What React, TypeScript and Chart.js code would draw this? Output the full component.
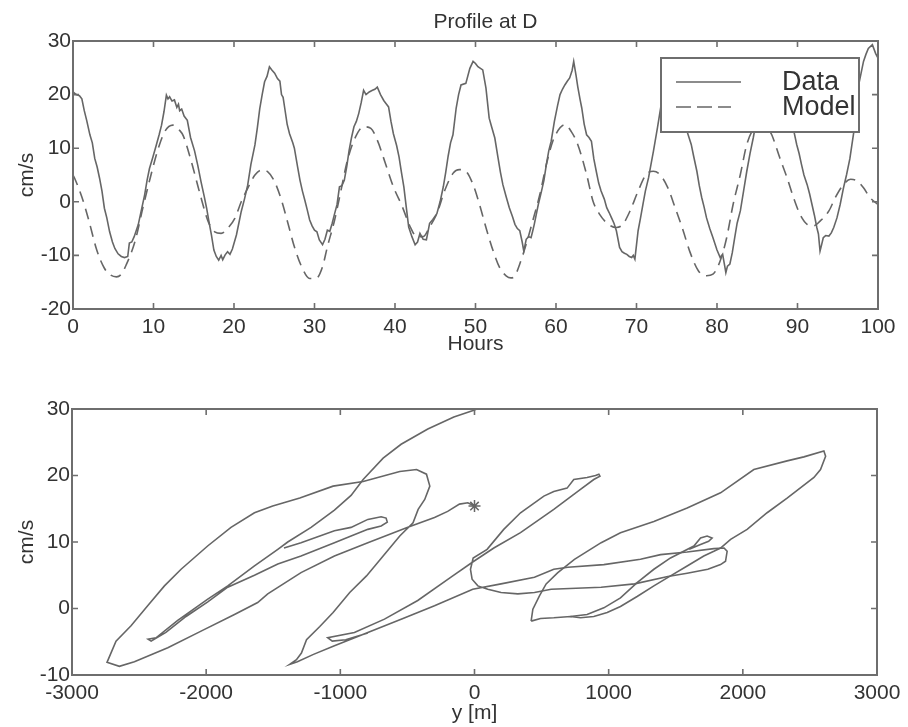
import { useEffect, useRef } from "react";
import { Chart, registerables } from "chart.js";

Chart.register(...registerables);

const FONT = "'Liberation Sans', Arial, Helvetica, sans-serif";
const INK = "#333333";
const LINE = "#666666";
const FRAME = "#6e6e6e";

// Upper panel: measured and modelled current at D, [hour, cm/s]
const measured: [number, number][] = [
  [0, 20.5], [0.4, 20.0], [0.8, 19.8], [1.1, 19.2], [1.4, 17.0], [1.7, 15.2], [2.1, 12.5], [2.4, 11.0],
  [2.7, 8.1], [3.0, 6.5], [3.3, 4.4], [3.6, 2.0], [3.9, -1.2], [4.2, -3.0], [4.55, -5.6], [4.9, -7.5],
  [5.2, -8.7], [5.6, -9.7], [6.0, -10.2], [6.4, -10.4], [6.8, -10.2], [7.0, -7.7], [7.3, -7.5], [7.6, -6.5],
  [8.1, -4.3], [8.5, -1.5], [8.9, 1.3], [9.2, 4.0], [9.5, 6.2], [9.9, 8.2], [10.35, 10.6], [10.7, 12.5],
  [11.0, 14.3], [11.3, 16.8], [11.6, 19.9], [11.8, 19.2], [12.0, 19.6], [12.3, 18.8], [12.6, 19.0], [12.9, 17.6],
  [13.1, 18.2], [13.25, 17.0], [13.5, 17.3], [13.8, 16.0], [14.2, 15.2], [14.6, 12.0], [15.1, 9.5], [15.5, 6.8],
  [15.9, 3.75], [16.3, 1.0], [16.6, -1.2], [16.9, -3.8], [17.2, -6.2], [17.5, -9.0], [17.8, -10.2], [18.1, -10.9],
  [18.4, -10.0], [18.6, -10.8], [18.9, -9.9], [19.2, -9.3], [19.5, -9.8], [19.8, -8.8], [20.3, -6.2], [20.6, -4.0],
  [20.9, -1.8], [21.3, 0.5], [21.7, 3.1], [22.1, 7.0], [22.6, 10.6], [22.9, 13.8], [23.2, 17.4], [23.5, 20.0],
  [23.8, 22.4], [24.1, 23.4], [24.4, 25.2], [24.7, 24.6], [25.05, 24.0], [25.4, 23.0], [25.7, 22.5], [25.9, 20.0],
  [26.1, 19.5], [26.3, 17.5], [26.6, 14.5], [26.9, 12.7], [27.3, 11.0], [27.5, 10.0], [27.9, 6.5], [28.2, 4.0],
  [28.5, 2.0], [28.8, 0.3], [29.1, -1.5], [29.4, -3.4], [29.7, -4.5], [30.0, -5.3], [30.3, -5.6], [30.6, -7.1],
  [31.0, -8.0], [31.3, -7.0], [31.6, -5.3], [31.9, -5.5], [32.2, -4.0], [32.5, -2.2], [32.8, -0.5], [33.1, 2.8],
  [33.4, 3.0], [33.7, 4.0], [34.0, 6.5], [34.3, 9.6], [34.6, 12.0], [34.9, 14.0], [35.2, 15.0], [35.5, 16.5],
  [35.8, 18.5], [36.1, 20.8], [36.4, 20.0], [36.8, 20.5], [37.2, 20.8], [37.5, 21.0], [37.8, 21.4], [38.2, 20.0],
  [38.6, 18.9], [38.9, 18.3], [39.2, 17.7], [39.5, 15.0], [39.8, 12.7], [40.2, 10.5], [40.5, 8.4], [40.8, 5.5],
  [41.1, 2.8], [41.4, -1.0], [41.7, -4.7], [42.1, -6.5], [42.5, -8.0], [42.8, -7.5], [43.1, -5.9], [43.5, -7.0],
  [43.9, -7.1], [44.3, -4.0], [44.7, -3.3], [45.2, -2.2], [45.6, 0.0], [46.0, 2.8], [46.3, 5.5], [46.6, 8.5],
  [46.9, 11.0], [47.2, 12.5], [47.6, 17.5], [47.9, 20.0], [48.2, 21.8], [48.8, 22.1], [49.3, 24.9], [49.7, 26.2],
  [50.0, 25.8], [50.3, 25.2], [50.9, 24.6], [51.3, 21.2], [51.7, 15.6], [52.0, 14.0], [52.4, 11.9], [52.8, 8.2],
  [53.1, 5.5], [53.4, 3.2], [53.8, 1.0], [54.2, -1.1], [54.6, -2.8], [54.9, -4.2], [55.2, -5.0], [55.5, -5.4],
  [55.8, -7.5], [56.0, -9.2], [56.3, -7.0], [56.6, -6.5], [56.9, -6.7], [57.1, -5.5], [57.3, -4.2], [57.8, -0.5],
  [58.2, 2.0], [58.5, 4.0], [58.8, 6.95], [59.1, 9.5], [59.4, 11.3], [59.8, 15.0], [60.2, 18.0], [60.5, 20.0],
  [60.8, 21.0], [61.1, 21.8], [61.4, 22.5], [61.7, 23.1], [62.0, 24.5], [62.2, 26.2], [62.5, 23.5], [62.7, 21.5],
  [63.0, 19.0], [63.2, 17.5], [63.5, 14.5], [63.8, 12.5], [64.1, 12.0], [64.4, 11.3], [64.7, 8.0], [65.0, 5.7],
  [65.3, 3.5], [65.6, 2.0], [66.0, 0.5], [66.3, -1.1], [66.6, -2.0], [66.9, -3.0], [67.2, -4.0], [67.5, -5.4],
  [67.9, -8.5], [68.2, -9.3], [68.5, -9.6], [68.8, -9.8], [69.1, -10.2], [69.4, -10.4], [69.6, -10.0], [69.8, -10.7],
  [70.2, -5.4], [70.5, -3.0], [70.8, -0.5], [71.1, 2.0], [71.5, 4.5], [71.8, 7.0], [72.1, 9.4], [72.6, 13.8],
  [73.0, 17.5], [73.5, 21.5], [74.0, 24.0], [74.5, 25.0], [75.0, 24.5], [75.5, 21.5], [76.0, 16.0], [76.2, 13.5],
  [76.8, 10.7], [77.1, 8.5], [77.5, 5.7], [77.8, 3.0], [78.1, 0.8], [78.4, -1.0], [78.7, -3.0], [79.1, -5.0],
  [79.5, -6.7], [80.0, -9.0], [80.4, -10.4], [80.7, -9.8], [80.9, -11.5], [81.1, -13.2], [81.3, -12.0], [81.6, -11.6],
  [81.9, -9.5], [82.2, -6.7], [82.5, -4.0], [82.9, -1.7], [83.3, 2.0], [83.7, 5.7], [84.1, 9.0], [84.5, 11.9],
  [85.0, 16.0], [85.5, 20.0], [86.0, 23.0], [86.5, 24.5], [87.0, 25.0], [87.5, 24.0], [88.0, 21.5], [88.5, 18.5],
  [89.0, 16.0], [89.5, 13.5], [89.9, 10.7], [90.2, 9.0], [90.5, 6.95], [90.8, 5.0], [91.2, 3.2], [91.5, 1.5],
  [91.8, -0.5], [92.1, -2.5], [92.4, -4.8], [92.6, -6.0], [92.8, -9.2], [93.0, -8.0], [93.2, -6.7], [93.5, -6.3],
  [93.9, -6.4], [94.2, -5.8], [94.5, -4.8], [94.9, -3.0], [95.3, -0.5], [95.7, 2.5], [96.1, 5.1], [96.5, 8.0],
  [97.0, 13.1], [97.3, 17.0], [97.6, 21.8], [97.9, 24.0], [98.2, 26.2], [98.5, 27.5], [98.8, 28.6], [99.3, 29.3],
  [99.7, 27.7], [100, 26.8],
];

const modelled: [number, number][] = [
  [0, 5.0], [0.2, 4.4], [1.1, 0.9], [1.9, -3.1], [2.95, -9.0], [3.9, -12.4], [4.6, -13.6], [5.4, -14.0],
  [6.0, -13.5], [6.6, -11.8], [7.7, -7.4], [8.7, -1.0], [9.6, 4.5], [10.5, 9.5], [11.4, 13.1], [12.4, 14.3],
  [13.2, 13.4], [13.7, 12.3], [14.7, 7.5], [15.7, 1.9], [16.8, -3.7], [17.6, -5.6], [18.4, -5.9], [19.25, -4.9],
  [20.1, -3.1], [20.9, 0.0], [21.7, 2.5], [22.6, 5.0], [23.4, 5.9], [24.2, 5.6], [25.05, 3.75], [25.9, 0.3],
  [26.7, -4.0], [27.5, -8.4], [28.4, -12.1], [29.4, -14.3], [30.2, -14.3], [31.0, -12.1], [31.6, -8.4], [32.5, -3.4],
  [33.3, 2.2], [34.1, 7.8], [35.1, 12.1], [36.1, 14.0], [37.0, 13.7], [37.8, 11.5], [38.8, 7.2], [39.8, 2.8],
  [40.9, -0.9], [41.9, -4.7], [42.7, -6.5], [43.5, -6.5], [44.3, -4.7], [45.2, -2.2], [46.2, 2.2], [47.2, 5.3],
  [48.0, 6.0], [48.8, 5.7], [49.7, 3.2], [50.5, -0.5], [51.3, -4.8], [52.2, -9.2], [53.0, -12.3], [53.8, -13.8],
  [54.4, -14.2], [54.9, -13.8], [55.5, -11.6], [56.3, -7.9], [57.1, -3.6], [58.0, 1.4], [58.8, 6.95], [59.6, 11.3],
  [60.5, 13.8], [61.1, 14.4], [61.9, 13.1], [62.7, 10.7], [63.8, 5.1], [64.6, 0.1], [65.4, -2.3], [66.5, -4.2],
  [67.5, -4.8], [68.3, -4.2], [69.2, -1.7], [70.2, 2.0], [71.2, 5.1], [72.1, 5.7], [72.9, 5.1], [73.9, 2.6],
  [74.8, -1.1], [75.8, -5.4], [76.6, -9.2], [77.7, -12.9], [78.7, -13.8], [79.5, -13.5], [80.4, -11.0], [81.2, -6.7],
  [82.0, -0.5], [82.9, 5.1], [83.7, 10.7], [84.5, 13.5], [85.5, 14.4], [86.2, 14.0], [86.8, 12.5], [87.8, 8.2],
  [88.7, 4.5], [89.5, 0.8], [90.3, -2.3], [91.2, -4.2], [92.0, -4.5], [92.8, -3.6], [93.9, -1.7], [94.7, 0.8],
  [95.7, 3.2], [96.6, 4.2], [97.4, 3.9], [98.2, 2.6], [99.0, 0.8], [100, -0.5],
];

// Lower panel: velocity against cross-profile position, [y in m, cm/s]
const trackWest: [number, number][] = [
  [0, 15.4], [-50, 15.9], [-112, 15.7], [-200, 14.6], [-298, 13.7], [-497, 12.2], [-795, 9.9], [-1044, 7.9],
  [-1293, 5.4], [-1541, 2.2], [-1616, 0.9], [-1789, -0.9], [-2038, -3.4], [-2286, -5.9], [-2535, -8.0], [-2647, -8.7],
  [-2739, -8.1], [-2672, -4.9], [-2560, -2.6], [-2436, 0.4], [-2311, 3.4], [-2187, 5.9], [-1989, 9.4], [-1815, 12.2],
  [-1640, 14.4], [-1504, 15.4], [-1302, 16.6], [-1054, 18.4], [-830, 19.1], [-557, 20.6], [-432, 20.9], [-358, 20.2],
  [-333, 18.4], [-371, 16.4], [-420, 14.9], [-458, 12.9], [-557, 10.9], [-681, 7.9], [-805, 4.9], [-930, 2.4],
  [-1054, -0.6], [-1153, -2.7], [-1252, -4.7], [-1290, -6.7], [-1327, -7.7], [-1377, -8.4], [-1320, -8.0], [-1200, -6.9],
  [-1044, -5.6], [-795, -3.6], [-547, -1.6], [-298, 0.4], [-13, 2.9], [198, 3.7], [447, 4.7], [591, 5.9],
  [696, 6.2], [964, 6.6], [1237, 7.4], [1387, 8.1], [1585, 8.5], [1784, 9.0], [1860, 9.1], [1883, 8.6],
  [1871, 7.1], [1834, 6.6], [1739, 5.9], [1585, 5.3], [1441, 4.8], [1193, 3.7], [944, 3.2], [571, 2.9],
  [447, 2.4], [323, 2.2], [198, 2.4], [99, 2.9], [25, 3.4], [-18, 4.4], [-30, 5.9], [-10, 7.6],
  [94, 8.9], [218, 11.9], [343, 14.4], [517, 16.9], [591, 17.6], [690, 18.1], [740, 19.4], [839, 19.7],
  [902, 20.0], [927, 20.2], [935, 19.9], [889, 19.4], [790, 17.9], [591, 14.9], [343, 11.4], [144, 9.1],
  [-5, 7.1], [-170, 4.8], [-423, 1.2], [-671, -1.6], [-895, -3.6], [-1094, -4.4], [-1060, -4.9], [-960, -4.7],
  [-795, -3.7],
];

const trackEast: [number, number][] = [
  [422, -1.9], [435, -0.1], [484, 1.9], [534, 3.7], [621, 5.4], [745, 7.4], [944, 9.9], [1088, 11.4],
  [1337, 13.1], [1585, 15.1], [1834, 17.4], [2082, 20.9], [2330, 22.2], [2455, 22.8], [2604, 23.7], [2617, 22.9],
  [2579, 20.9], [2530, 19.7], [2330, 16.6], [2181, 14.4], [2032, 11.9], [1909, 10.4], [1834, 9.1], [1784, 8.6],
  [1709, 7.9], [1585, 6.4], [1461, 4.9], [1337, 3.4], [1212, 1.8], [1088, 0.3], [989, -0.6], [889, -1.2],
  [790, -1.4], [716, -1.2], [591, -1.4], [492, -1.5], [422, -1.9],
];

const trackHook: [number, number][] = [
  [716, -1.2], [839, -0.9], [964, 0.1], [1088, 1.6], [1212, 3.9], [1337, 5.9], [1461, 7.6], [1635, 9.4],
  [1685, 10.6], [1734, 10.9], [1771, 10.6], [1745, 10.1], [1680, 9.6], [1600, 8.9],
];

const trackNorth: [number, number][] = [
  [40, 30.2], [-5, 29.8], [-154, 28.8], [-348, 27.0], [-547, 24.7], [-681, 22.6], [-830, 19.4], [-920, 17.0],
  [-1044, 14.8], [-1218, 12.2], [-1392, 10.0], [-1466, 8.9], [-1640, 6.4], [-1839, 3.4], [-1988, 1.4], [-2212, -1.8],
  [-2374, -4.4], [-2433, -4.6], [-2410, -4.9], [-2300, -3.6], [-2150, -1.2], [-1988, 1.0], [-1839, 3.2], [-1640, 5.0],
  [-1466, 6.7], [-1293, 7.9], [-1044, 9.9], [-920, 10.9], [-795, 11.9], [-696, 12.4], [-650, 13.0], [-659, 13.6],
  [-696, 13.8], [-795, 13.4], [-920, 12.2], [-1044, 11.7], [-1293, 9.9], [-1420, 9.1],
];

const toPoints = (rows: [number, number][]) => rows.map(([x, y]) => ({ x, y }));
const font = (size: number) => ({ family: FONT, size, weight: "normal" as const, lineHeight: 1.2 });

// Box round the plot with short inward ticks on all four sides
const frameTicks = {
  id: "frameTicks",
  afterDatasetsDraw(chart: any) {
    const { ctx, chartArea, scales } = chart;
    const { left, right, top, bottom } = chartArea;
    const len = 6;
    ctx.save();
    ctx.strokeStyle = FRAME;
    ctx.lineWidth = 1.6;
    ctx.beginPath();
    for (const t of scales.x.ticks) {
      const px = scales.x.getPixelForValue(t.value);
      ctx.moveTo(px, bottom);
      ctx.lineTo(px, bottom - len);
      ctx.moveTo(px, top);
      ctx.lineTo(px, top + len);
    }
    for (const t of scales.y.ticks) {
      const py = scales.y.getPixelForValue(t.value);
      ctx.moveTo(left, py);
      ctx.lineTo(left + len, py);
      ctx.moveTo(right, py);
      ctx.lineTo(right - len, py);
    }
    ctx.stroke();
    ctx.lineWidth = 2;
    ctx.strokeRect(left, top, right - left, bottom - top);
    ctx.restore();
  },
};

// Heading above the upper panel
const panelHeading = {
  id: "panelHeading",
  afterDraw(chart: any) {
    const { ctx, chartArea } = chart;
    ctx.save();
    ctx.fillStyle = INK;
    ctx.font = `21px ${FONT}`;
    ctx.textAlign = "center";
    ctx.textBaseline = "middle";
    ctx.fillText("Profile at D", (chartArea.left + chartArea.right) / 2 + 10, chartArea.top - 19);
    ctx.restore();
  },
};

// Boxed key in the upper right of the upper panel
const keyBox = {
  id: "keyBox",
  afterDatasetsDraw(chart: any) {
    const { ctx, chartArea } = chart;
    const x0 = chartArea.right - 217;
    const y0 = chartArea.top + 17;
    const w = 198;
    const h = 74;
    const rows = [
      { text: "Data", dash: [] as number[], len: 65 },
      { text: "Model", dash: [15, 6], len: 55 },
    ];
    ctx.save();
    ctx.fillStyle = "#ffffff";
    ctx.fillRect(x0, y0, w, h);
    ctx.strokeStyle = FRAME;
    ctx.lineWidth = 2;
    ctx.strokeRect(x0, y0, w, h);
    rows.forEach((row, i) => {
      const cy = y0 + 24 + i * 25;
      ctx.strokeStyle = LINE;
      ctx.lineWidth = 1.6;
      ctx.setLineDash(row.dash);
      ctx.beginPath();
      ctx.moveTo(x0 + 15, cy);
      ctx.lineTo(x0 + 15 + row.len, cy);
      ctx.stroke();
      ctx.setLineDash([]);
      ctx.fillStyle = INK;
      ctx.font = `27px ${FONT}`;
      ctx.textAlign = "left";
      ctx.textBaseline = "middle";
      ctx.fillText(row.text, x0 + 121, cy + 1);
    });
    ctx.restore();
  },
};

function axis(min: number, max: number, step: number, title: string, extent: number, titlePad: any) {
  return {
    type: "linear" as const,
    min,
    max,
    grid: { display: false, drawTicks: false },
    border: { display: false },
    ticks: {
      stepSize: step,
      autoSkip: false,
      maxRotation: 0,
      color: INK,
      font: font(21),
      padding: 6,
      callback: (v: any) => String(v),
    },
    title: { display: true, text: title, color: INK, font: font(21), padding: titlePad },
    afterFit: (s: any) => {
      if (s.isHorizontal()) s.height = extent;
      else s.width = extent;
    },
  };
}

const lineStyle = {
  showLine: true,
  borderColor: LINE,
  backgroundColor: LINE,
  borderWidth: 1.6,
  pointRadius: 0,
  tension: 0,
};

export default function App() {
  const topRef = useRef<HTMLCanvasElement>(null);
  const bottomRef = useRef<HTMLCanvasElement>(null);

  useEffect(() => {
    const yAxisTop = axis(-20, 30, 10, "cm/s", 73, { top: 15, bottom: 0 });
    yAxisTop.ticks.padding = 2;
    const yAxisBottom = axis(-10, 30, 10, "cm/s", 72, { top: 15, bottom: 0 });
    yAxisBottom.ticks.padding = 2;

    const top = new Chart(topRef.current as HTMLCanvasElement, {
      type: "scatter",
      data: {
        datasets: [
          { label: "Data", data: toPoints(measured), ...lineStyle },
          { label: "Model", data: toPoints(modelled), ...lineStyle, borderDash: [11, 7], cubicInterpolationMode: "monotone" },
        ],
      },
      options: {
        animation: false,
        responsive: false,
        devicePixelRatio: 1,
        layout: { padding: { left: 0, right: 30, top: 41, bottom: 0 } },
        plugins: { legend: { display: false }, tooltip: { enabled: false } },
        scales: {
          x: axis(0, 100, 10, "Hours", 56, { top: 0, bottom: 8 }),
          y: yAxisTop,
        },
      } as any,
      plugins: [frameTicks, keyBox, panelHeading],
    });

    const bottom = new Chart(bottomRef.current as HTMLCanvasElement, {
      type: "scatter",
      data: {
        datasets: [
          { label: "west", data: toPoints(trackWest), ...lineStyle },
          { label: "east", data: toPoints(trackEast), ...lineStyle },
          { label: "hook", data: toPoints(trackHook), ...lineStyle },
          { label: "north", data: toPoints(trackNorth), ...lineStyle },
          {
            label: "start",
            data: toPoints(trackWest.slice(0, 1)),
            showLine: false,
            pointStyle: "star",
            pointRadius: 6,
            borderColor: LINE,
            borderWidth: 1.5,
          },
        ],
      },
      options: {
        animation: false,
        responsive: false,
        devicePixelRatio: 1,
        layout: { padding: { left: 0, right: 31, top: 44, bottom: 0 } },
        plugins: { legend: { display: false }, tooltip: { enabled: false } },
        scales: {
          x: axis(-3000, 3000, 1000, "y [m]", 52, { top: 0, bottom: 1 }),
          y: yAxisBottom,
        },
      } as any,
      plugins: [frameTicks],
    });

    return () => {
      top.destroy();
      bottom.destroy();
    };
  }, []);

  return (
    <div style={{ position: "absolute", left: 0, top: 0, width: 908, height: 727, background: "#ffffff" }}>
      <canvas ref={topRef} width={908} height={365} style={{ position: "absolute", left: 0, top: 0 }} />
      <canvas ref={bottomRef} width={908} height={362} style={{ position: "absolute", left: 0, top: 365 }} />
    </div>
  );
}
